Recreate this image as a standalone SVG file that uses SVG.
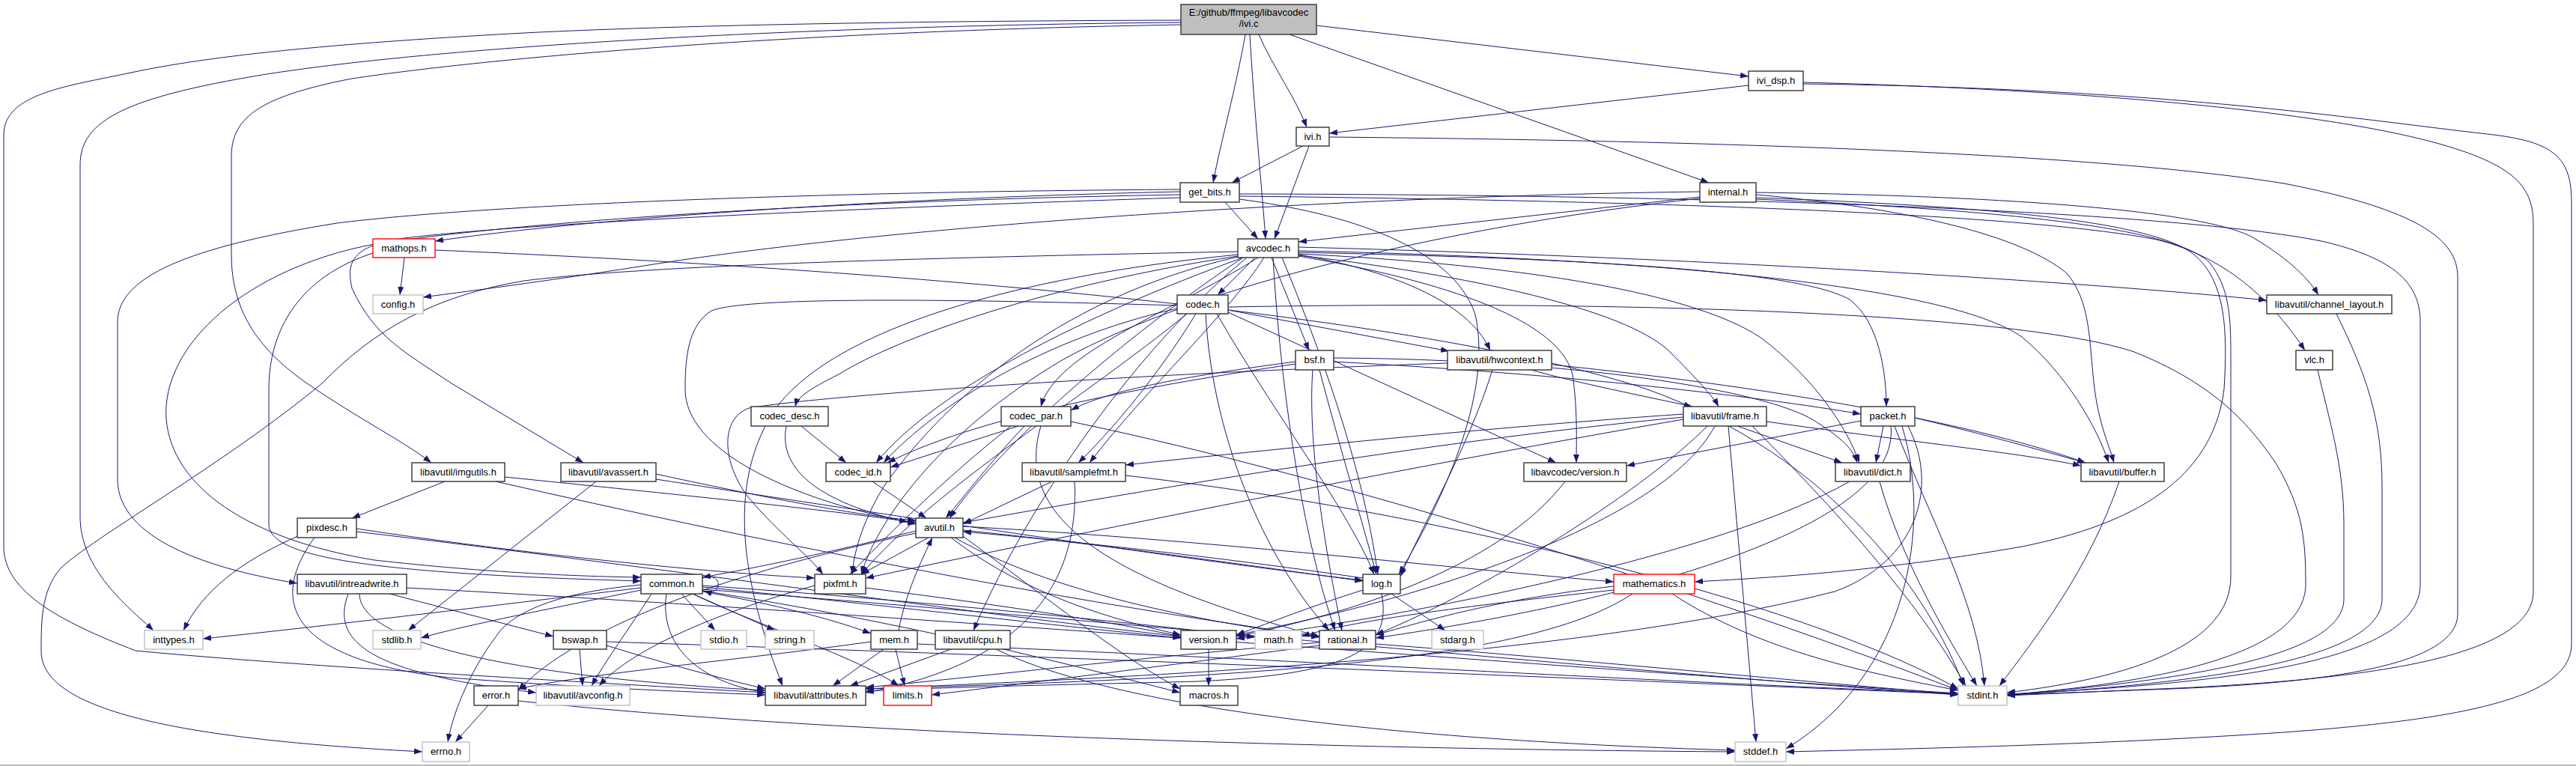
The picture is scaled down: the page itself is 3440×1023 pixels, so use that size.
<svg xmlns="http://www.w3.org/2000/svg" width="3440" height="1023" viewBox="0 0 3440 1023">
<defs>
<marker id="a" markerWidth="11" markerHeight="8" refX="11" refY="4" orient="auto" markerUnits="userSpaceOnUse"><path d="M0,0L11,4L0,8z" fill="#191970"/></marker>
<style>
.e path{fill:none;stroke:#191970;stroke-width:1;marker-end:url(#a)}
.n rect{fill:#fff;stroke:#333;stroke-width:1.4}
.g rect{stroke:#bfbfbf}
.r rect{stroke:#f00}
.root rect{fill:#bfbfbf}
text{font-family:"Liberation Sans",Arial,sans-serif;font-size:13px;text-anchor:middle;fill:#000}
</style>
</defs>
<rect width="3440" height="1023" fill="#fff"/>
<rect x="0" y="1021" width="3440" height="2" fill="#bdbdbd"/>
<g id="edges" class="e">
<path d="M1758,34 L2335,102"/>
<path d="M1722,46 L2282,244"/>
<path d="M1681,46 C1700,90 1730,130 1745,170"/>
<path d="M1669,46 C1675,150 1685,250 1690,319"/>
<path d="M1663,46 C1650,120 1630,190 1620,244"/>
<path d="M1577,27 C1200,28 900,34 700,44 C500,55 300,70 175,97 C90,115 5,125 5,180 L5,730 C5,790 80,830 181,869 C400,890 800,912 1022,925"/>
<path d="M1577,30 C1100,34 600,60 350,100 C170,130 107,160 107,220 L107,690 C107,760 170,810 205,842"/>
<path d="M1577,33 C1050,42 650,78 470,105 C340,130 309,160 309,210 L309,340 C309,420 350,470 410,512 C480,560 540,590 576,618"/>
<path d="M2335,114 L1775,178"/>
<path d="M2408,110 C2800,120 3100,150 3250,190 C3360,220 3383,250 3383,300 L3383,790 C3383,880 3150,910 2860,921 L2680,929"/>
<path d="M2408,112 C2900,118 3150,160 3330,180 C3410,190 3434,210 3434,270 L3434,860 C3434,930 3300,960 3050,978 C2800,995 2550,1000 2385,1004"/>
<path d="M1740,195 L1645,244"/>
<path d="M1748,195 L1702,319"/>
<path d="M1775,183 C2300,188 2800,205 3050,245 C3230,280 3282,320 3282,370 L3282,820 C3282,890 3100,912 2900,920 L2680,928"/>
<path d="M1636,270 L1680,319"/>
<path d="M1576,256 C1200,264 800,290 581,322"/>
<path d="M1576,253 C1100,256 650,273 450,298 C250,330 157,370 157,430 L157,640 C157,720 280,760 397,779"/>
<path d="M1576,264 C1200,276 720,296 540,318 C470,328 462,350 470,385 C500,450 540,470 603,512 L779,618"/>
<path d="M1576,260 C1100,268 700,296 500,326 C330,358 215,460 222,560 C230,650 330,720 500,748 C650,765 780,770 856,771"/>
<path d="M1655,266 C1800,285 1940,330 1970,420 C1995,530 1920,680 1868,767"/>
<path d="M1655,262 C2200,268 2700,285 2880,320 C2980,345 3040,410 3078,468"/>
<path d="M1655,259 C2300,260 2900,282 3100,322 C3200,345 3232,380 3232,430 L3232,780 C3232,880 3000,912 2680,927"/>
<path d="M2270,263 L1734,323"/>
<path d="M2270,256 C1800,262 1200,300 860,355 C700,380 600,392 565,397"/>
<path d="M2270,265 C1950,300 1600,380 1420,480 C1250,580 1170,700 1150,767"/>
<path d="M2345,257 C2700,262 2950,283 3010,318 C3060,348 3085,375 3096,394"/>
<path d="M2345,260 C2550,278 2700,315 2760,365 C2790,400 2790,450 2795,500 C2800,560 2815,590 2823,618"/>
<path d="M2345,264 C2700,277 2880,300 2930,340 C2972,375 2975,440 2970,520 C2955,640 2850,700 2700,730 C2500,765 2350,772 2263,777"/>
<path d="M2345,266 C2700,282 2900,305 2950,350 C2979,385 2979,430 2979,480 L2979,770 C2979,860 2850,905 2680,925"/>
<path d="M540,344 L534,394"/>
<path d="M498,338 C400,370 359,440 359,520 L359,700 C359,745 500,766 856,776"/>
<path d="M581,334 C1200,360 1900,420 2200,520 C2450,610 2580,800 2622,916"/>
<path d="M1653,336 C1200,345 860,355 700,375 C580,395 500,440 430,512 C300,620 120,720 80,760 C55,790 55,830 55,870 C55,960 300,990 564,1004"/>
<path d="M1688,344 C1640,420 1530,520 1455,618"/>
<path d="M1653,340 C1350,370 1120,440 1040,540 C960,650 1000,800 1045,916"/>
<path d="M1660,344 C1500,450 1330,600 1268,692"/>
<path d="M1734,335 C2200,345 2600,380 2700,450 C2760,500 2800,570 2816,618"/>
<path d="M1665,344 C1500,480 1360,700 1300,842"/>
<path d="M1734,330 C2300,345 2800,378 3027,401"/>
<path d="M1734,339 C2000,352 2250,385 2350,450 C2430,510 2470,580 2483,618"/>
<path d="M1734,341 C2000,372 2180,420 2230,470 C2265,505 2288,530 2295,543"/>
<path d="M1734,340 C1850,360 1960,400 1990,468"/>
<path d="M1712,344 C1760,460 1820,620 1840,767"/>
<path d="M1653,343 C1400,400 1250,550 1180,650 C1150,700 1140,740 1138,767"/>
<path d="M1700,344 C1710,520 1740,720 1783,842"/>
<path d="M1698,344 L1748,468"/>
<path d="M1676,344 L1626,394"/>
<path d="M1653,342 C1400,380 1200,450 1120,500 C1080,520 1065,530 1062,543"/>
<path d="M1680,344 C1560,420 1410,470 1390,543"/>
<path d="M1660,344 C1450,420 1250,520 1170,618"/>
<path d="M1734,342 C1900,370 2080,420 2100,500 C2107,550 2105,590 2105,618"/>
<path d="M1734,337 C2100,345 2400,360 2470,400 C2510,430 2519,500 2519,543"/>
<path d="M1640,410 C2200,400 2700,420 2850,470 C2950,510 3000,560 3040,620 C3075,680 3079,720 3079,780 C3079,870 2900,910 2680,928"/>
<path d="M1572,408 C1300,400 1000,395 950,415 C918,435 915,480 915,520 C915,600 1050,665 1212,697"/>
<path d="M1640,414 L1935,469"/>
<path d="M1625,419 C1700,550 1800,680 1835,767"/>
<path d="M1585,419 C1450,530 1250,650 1150,767"/>
<path d="M1610,419 C1620,600 1700,760 1775,842"/>
<path d="M1597,419 C1560,480 1500,560 1440,618"/>
<path d="M1572,412 C1400,450 1250,540 1180,618"/>
<path d="M1640,417 L2078,618"/>
<path d="M1781,478 C2100,480 2350,520 2420,560 C2460,585 2475,600 2480,618"/>
<path d="M1762,494 C1790,600 1820,700 1838,767"/>
<path d="M1753,494 C1745,600 1775,760 1792,842"/>
<path d="M1730,486 C1500,520 1300,560 1185,618"/>
<path d="M1730,483 C1600,500 1480,520 1430,548"/>
<path d="M1781,483 C2100,500 2350,530 2485,553"/>
<path d="M2072,487 C2400,520 2650,570 2785,618"/>
<path d="M2045,494 C2100,510 2200,530 2260,543"/>
<path d="M1993,494 C1960,600 1900,700 1870,770"/>
<path d="M1933,485 C1500,500 1100,528 1000,545 C960,560 965,620 1000,665 C1040,712 1080,742 1099,767"/>
<path d="M3095,494 C3110,560 3130,620 3130,700 L3130,800 C3130,880 2900,910 2680,928"/>
<path d="M3120,419 C3160,500 3181,560 3181,650 L3181,800 C3181,880 2950,912 2680,928"/>
<path d="M1070,569 L1130,618"/>
<path d="M1050,569 C1040,620 1080,670 1223,700"/>
<path d="M1360,569 L1189,624"/>
<path d="M1368,569 C1320,620 1290,660 1263,692"/>
<path d="M1350,569 C1260,640 1180,720 1135,767"/>
<path d="M1390,569 C1350,700 1500,780 1762,850"/>
<path d="M1430,563 C1800,640 2300,800 2615,922"/>
<path d="M2308,569 L2345,991"/>
<path d="M2340,569 C2450,680 2560,800 2625,916"/>
<path d="M2248,557 C1900,590 1500,660 1286,698"/>
<path d="M2359,563 C2550,590 2700,605 2779,622"/>
<path d="M2320,569 L2460,618"/>
<path d="M2280,569 C2200,650 2000,780 1837,848"/>
<path d="M2248,553 C2000,570 1700,600 1503,621"/>
<path d="M2248,560 C1900,620 1500,700 1156,772"/>
<path d="M2290,569 C2220,700 1900,800 1651,848"/>
<path d="M2540,569 C2580,700 2550,900 2385,1000"/>
<path d="M2530,569 C2580,700 2640,800 2650,916"/>
<path d="M2548,569 C2590,650 2560,750 2450,790 C2100,880 1500,905 1156,920"/>
<path d="M2557,558 C2650,580 2720,600 2785,618"/>
<path d="M2515,569 L2505,618"/>
<path d="M2525,569 C2540,700 2200,800 1837,852"/>
<path d="M2485,562 L2172,622"/>
<path d="M594,643 L470,692"/>
<path d="M674,637 C900,660 1100,680 1223,698"/>
<path d="M662,643 C1000,720 1400,800 1762,850"/>
<path d="M796,643 L545,842"/>
<path d="M876,633 C1000,660 1150,690 1223,695"/>
<path d="M876,640 C1200,690 1600,750 1820,775"/>
<path d="M1165,643 L1237,692"/>
<path d="M1405,643 L1286,700"/>
<path d="M1435,643 C1440,750 1400,880 1156,925"/>
<path d="M1503,635 C1900,680 2400,800 2615,920"/>
<path d="M2090,643 C2000,760 1800,820 1651,850"/>
<path d="M2510,643 C2540,750 2600,850 2640,916"/>
<path d="M2470,643 C2300,740 1900,820 1651,853"/>
<path d="M2830,643 C2790,760 2720,850 2670,916"/>
<path d="M400,715 C320,750 270,790 245,842"/>
<path d="M420,718 C360,800 380,880 600,905 C800,920 950,925 1022,928"/>
<path d="M476,706 C700,740 950,765 1088,772"/>
<path d="M476,710 C900,760 1300,820 1577,850"/>
<path d="M1223,709 C1100,740 1000,760 938,771"/>
<path d="M1223,712 C900,780 750,860 692,922"/>
<path d="M1275,718 C1400,790 1600,830 1762,851"/>
<path d="M1270,718 C1350,780 1450,820 1577,848"/>
<path d="M1286,716 C1400,800 1500,880 1576,920"/>
<path d="M1286,703 C1600,720 1950,760 2155,777"/>
<path d="M1286,708 C1500,730 1700,760 1820,776"/>
<path d="M1240,718 L1150,767"/>
<path d="M520,793 L739,850"/>
<path d="M465,793 C440,860 500,900 716,925"/>
<path d="M480,793 C480,860 700,905 1022,922"/>
<path d="M543,785 C1200,820 2200,900 2615,926"/>
<path d="M856,781 C760,790 700,810 670,840 C630,890 605,950 598,991"/>
<path d="M856,785 C650,810 400,840 271,853"/>
<path d="M925,793 C1000,830 1150,880 1200,916"/>
<path d="M938,782 C1200,800 1500,830 1676,851"/>
<path d="M938,787 C1500,830 2200,900 2615,928"/>
<path d="M910,793 L955,842"/>
<path d="M856,788 C750,810 620,835 562,852"/>
<path d="M925,793 L1035,842"/>
<path d="M890,793 C880,860 930,910 1022,925"/>
<path d="M938,789 C1200,830 1400,880 1576,925"/>
<path d="M938,784 C1200,810 1400,835 1577,852"/>
<path d="M870,793 C840,840 810,880 790,916"/>
<path d="M938,772 C966,762 966,798 940,789"/>
<path d="M938,790 C1050,810 1120,830 1163,846"/>
<path d="M1088,782 C950,820 840,870 800,916"/>
<path d="M1156,785 C1350,810 1480,830 1577,850"/>
<path d="M1858,793 L1930,842"/>
<path d="M1820,772 C1600,740 1400,720 1286,710"/>
<path d="M1845,793 C1860,870 1800,900 1600,910 C1400,915 1250,918 1156,923"/>
<path d="M1820,788 C1750,810 1700,830 1651,848"/>
<path d="M2155,783 C2000,800 1900,830 1837,848"/>
<path d="M2155,788 C1950,810 1800,830 1738,850"/>
<path d="M2180,793 C2050,880 1700,905 1156,920"/>
<path d="M2233,793 C2350,870 2500,900 2615,922"/>
<path d="M774,867 L778,916"/>
<path d="M810,862 C900,890 980,910 1022,920"/>
<path d="M810,857 C1500,880 2200,910 2615,927"/>
<path d="M1200,842 C1210,790 1230,750 1245,718"/>
<path d="M1196,867 L1208,916"/>
<path d="M1180,867 L1112,916"/>
<path d="M1163,857 C1000,880 780,900 692,920"/>
<path d="M1225,860 C1700,880 2200,910 2615,926"/>
<path d="M1270,867 L1135,916"/>
<path d="M1330,867 C1500,950 1900,990 2317,1002"/>
<path d="M1614,867 L1614,916"/>
<path d="M1837,860 C2100,880 2400,910 2615,927"/>
<path d="M1762,862 C1550,890 1350,915 1244,928"/>
<path d="M1762,858 C1500,880 1300,905 1156,918"/>
<path d="M652,942 L608,991"/>
<path d="M692,936 C1200,990 2000,1002 2317,1004"/>
</g>
<g id="n_root" class="n root"><rect x="1577" y="6" width="181" height="40"/><text x="1667.5" y="21">E:/github/ffmpeg/libavcodec</text><text x="1667.5" y="36">/ivi.c</text></g>
<g id="n_ivi_dsp" class="n"><rect x="2335" y="95" width="73" height="26"/><text x="2371.5" y="112">ivi_dsp.h</text></g>
<g id="n_ivi" class="n"><rect x="1731" y="170" width="44" height="25"/><text x="1753" y="187">ivi.h</text></g>
<g id="n_get_bits" class="n"><rect x="1576" y="244" width="79" height="26"/><text x="1615.5" y="261">get_bits.h</text></g>
<g id="n_internal" class="n"><rect x="2270" y="244" width="75" height="26"/><text x="2307.5" y="261">internal.h</text></g>
<g id="n_mathops" class="n r"><rect x="498" y="319" width="83" height="25"/><text x="539.5" y="336">mathops.h</text></g>
<g id="n_avcodec" class="n"><rect x="1653" y="319" width="81" height="25"/><text x="1693.5" y="336">avcodec.h</text></g>
<g id="n_config" class="n g"><rect x="498" y="394" width="67" height="25"/><text x="531.5" y="411">config.h</text></g>
<g id="n_codec" class="n"><rect x="1572" y="394" width="68" height="25"/><text x="1606" y="411">codec.h</text></g>
<g id="n_channel_layout" class="n"><rect x="3027" y="394" width="167" height="25"/><text x="3110.5" y="411">libavutil/channel_layout.h</text></g>
<g id="n_bsf" class="n"><rect x="1730" y="468" width="51" height="26"/><text x="1755.5" y="485">bsf.h</text></g>
<g id="n_hwcontext" class="n"><rect x="1933" y="468" width="139" height="26"/><text x="2002.5" y="485">libavutil/hwcontext.h</text></g>
<g id="n_vlc" class="n"><rect x="3066" y="468" width="49" height="26"/><text x="3090.5" y="485">vlc.h</text></g>
<g id="n_codec_desc" class="n"><rect x="1003" y="543" width="103" height="26"/><text x="1054.5" y="560">codec_desc.h</text></g>
<g id="n_codec_par" class="n"><rect x="1337" y="543" width="93" height="26"/><text x="1383.5" y="560">codec_par.h</text></g>
<g id="n_frame" class="n"><rect x="2248" y="543" width="111" height="26"/><text x="2303.5" y="560">libavutil/frame.h</text></g>
<g id="n_packet" class="n"><rect x="2485" y="543" width="72" height="26"/><text x="2521" y="560">packet.h</text></g>
<g id="n_imgutils" class="n"><rect x="550" y="618" width="124" height="25"/><text x="612" y="635">libavutil/imgutils.h</text></g>
<g id="n_avassert" class="n"><rect x="749" y="618" width="127" height="25"/><text x="812.5" y="635">libavutil/avassert.h</text></g>
<g id="n_codec_id" class="n"><rect x="1103" y="618" width="86" height="25"/><text x="1146" y="635">codec_id.h</text></g>
<g id="n_samplefmt" class="n"><rect x="1365" y="618" width="138" height="25"/><text x="1434" y="635">libavutil/samplefmt.h</text></g>
<g id="n_lavc_version" class="n"><rect x="2035" y="618" width="137" height="25"/><text x="2103.5" y="635">libavcodec/version.h</text></g>
<g id="n_dict" class="n"><rect x="2451" y="618" width="100" height="25"/><text x="2501" y="635">libavutil/dict.h</text></g>
<g id="n_buffer" class="n"><rect x="2779" y="618" width="111" height="25"/><text x="2834.5" y="635">libavutil/buffer.h</text></g>
<g id="n_pixdesc" class="n"><rect x="397" y="692" width="79" height="26"/><text x="436.5" y="709">pixdesc.h</text></g>
<g id="n_avutil" class="n"><rect x="1223" y="692" width="63" height="26"/><text x="1254.5" y="709">avutil.h</text></g>
<g id="n_intreadwrite" class="n"><rect x="397" y="767" width="146" height="26"/><text x="470" y="784">libavutil/intreadwrite.h</text></g>
<g id="n_common" class="n"><rect x="856" y="767" width="82" height="26"/><text x="897" y="784">common.h</text></g>
<g id="n_pixfmt" class="n"><rect x="1088" y="767" width="68" height="26"/><text x="1122" y="784">pixfmt.h</text></g>
<g id="n_log" class="n"><rect x="1820" y="767" width="50" height="26"/><text x="1845" y="784">log.h</text></g>
<g id="n_mathematics" class="n r"><rect x="2155" y="767" width="108" height="26"/><text x="2209" y="784">mathematics.h</text></g>
<g id="n_inttypes" class="n g"><rect x="193" y="842" width="78" height="25"/><text x="232" y="859">inttypes.h</text></g>
<g id="n_stdlib" class="n g"><rect x="498" y="842" width="64" height="25"/><text x="530" y="859">stdlib.h</text></g>
<g id="n_bswap" class="n"><rect x="739" y="842" width="71" height="25"/><text x="774.5" y="859">bswap.h</text></g>
<g id="n_stdio" class="n g"><rect x="936" y="842" width="61" height="25"/><text x="966.5" y="859">stdio.h</text></g>
<g id="n_string" class="n g"><rect x="1022" y="842" width="65" height="25"/><text x="1054.5" y="859">string.h</text></g>
<g id="n_mem" class="n"><rect x="1163" y="842" width="62" height="25"/><text x="1194" y="859">mem.h</text></g>
<g id="n_cpu" class="n"><rect x="1249" y="842" width="100" height="25"/><text x="1299" y="859">libavutil/cpu.h</text></g>
<g id="n_version" class="n"><rect x="1577" y="842" width="74" height="25"/><text x="1614" y="859">version.h</text></g>
<g id="n_math" class="n g"><rect x="1676" y="842" width="62" height="25"/><text x="1707" y="859">math.h</text></g>
<g id="n_rational" class="n"><rect x="1762" y="842" width="75" height="25"/><text x="1799.5" y="859">rational.h</text></g>
<g id="n_stdarg" class="n g"><rect x="1912" y="842" width="69" height="25"/><text x="1946.5" y="859">stdarg.h</text></g>
<g id="n_error" class="n"><rect x="633" y="916" width="59" height="26"/><text x="662.5" y="933">error.h</text></g>
<g id="n_avconfig" class="n g"><rect x="716" y="916" width="125" height="26"/><text x="778.5" y="933">libavutil/avconfig.h</text></g>
<g id="n_attributes" class="n"><rect x="1022" y="916" width="134" height="26"/><text x="1089" y="933">libavutil/attributes.h</text></g>
<g id="n_limits" class="n r"><rect x="1180" y="916" width="64" height="26"/><text x="1212" y="933">limits.h</text></g>
<g id="n_macros" class="n"><rect x="1576" y="916" width="77" height="26"/><text x="1614.5" y="933">macros.h</text></g>
<g id="n_stdint" class="n g"><rect x="2615" y="916" width="65" height="26"/><text x="2647.5" y="933">stdint.h</text></g>
<g id="n_errno" class="n g"><rect x="564" y="991" width="63" height="26"/><text x="595.5" y="1008">errno.h</text></g>
<g id="n_stddef" class="n g"><rect x="2317" y="991" width="68" height="26"/><text x="2351" y="1008">stddef.h</text></g>
</svg>
